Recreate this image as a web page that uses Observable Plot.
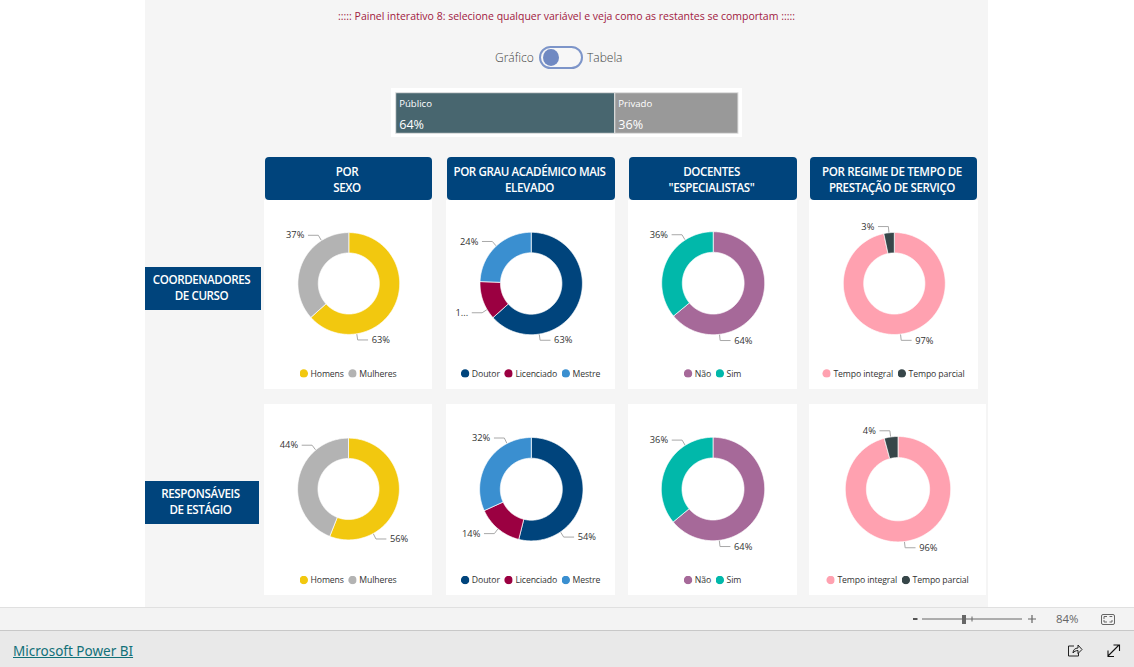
<!DOCTYPE html>
<html lang="pt">
<head>
<meta charset="utf-8">
<script src="https://cdn.jsdelivr.net/npm/d3@7"></script>
<script src="https://cdn.jsdelivr.net/npm/@observablehq/plot@0.6"></script>
<style>
html,body{margin:0;padding:0;background:#fff;width:1134px;height:667px;overflow:hidden;font-family:"Open Sans",sans-serif;}
.abs{position:absolute;}
.tog{font-size:12px;font-weight:300;line-height:16px;color:#444;top:50px;}
#pill{left:539px;top:46px;width:40px;height:19px;border:2px solid #7d95c9;border-radius:12px;background:#f7f7f7;}
#knob{left:543px;top:49px;width:16px;height:17px;border-radius:50%;background:#7089c2;}
.head{background:#00447c;border-radius:4px;color:#fff;text-align:center;font-size:11.6px;font-weight:600;line-height:16px;top:157px;height:43px;letter-spacing:-.4px;box-sizing:border-box;padding-top:6.5px;padding-right:3px;white-space:nowrap;}
.rowlab{background:#00447c;color:#fff;text-align:center;font-size:11.6px;font-weight:600;line-height:16px;letter-spacing:-.4px;height:43px;box-sizing:border-box;padding-top:5px;padding-right:3px;left:145px;}
.panel{background:#fff;}
.panel svg{display:block;}
.leg-swatches-wrap,.leg-swatches{display:flex;justify-content:center;align-items:center;min-height:0!important;margin:0!important;font-family:"Open Sans",sans-serif;font-size:8.7px!important;letter-spacing:-.12px;color:#333;padding-right:2px;}
.leg-swatch{display:inline-flex;align-items:center;margin-right:4.5px!important;}
.leg-swatch:last-child{margin-right:0!important;}
.leg-swatch svg{clip-path:circle(50%);margin-right:2.5px!important;}
#tree{left:391px;top:88px;width:351px;height:49px;background:#fff;}
#zoombar{left:0;top:607px;width:1134px;background:#f3f3f3;border-top:1px solid #e0e0e0;border-bottom:1px solid #c8c8c8;height:22px;}
#foot{left:0;top:631px;width:1134px;height:36px;background:#e9e9e9;}
#pbi{left:13px;top:641px;font-size:13.5px;line-height:20px;color:#117078;text-decoration:underline;font-family:"Noto Sans",sans-serif;}
#pct{left:1056px;top:611px;font-size:11.4px;line-height:16px;color:#666;}
</style>
</head>
<body>
<script>
// ---- data ----
const sectorCats = ["Público", "Privado"];
const sectorValues = [64, 36];
const sectorColors = ["#48666f", "#999999"];

const sexCats = ["Homens", "Mulheres"];
const sexColors = ["#F2C80F", "#B3B3B3"];
const degreeCats = ["Doutor", "Licenciado", "Mestre"];
const degreeColors = ["#00447C", "#9B0041", "#3A8FD0"];
const specialistCats = ["Não", "Sim"];
const specialistColors = ["#A66999", "#01B8AA"];
const regimeCats = ["Tempo integral", "Tempo parcial"];
const regimeColors = ["#FFA1B0", "#374649"];

const sexCoord = [63.4, 36.6];
const degreeCoord = [63.4, 12.2, 24.4];
const specialistCoord = [64, 36];
const regimeCoord = [96.7, 3.3];
const sexResp = [56, 44];
const degreeResp = [53.9, 14.3, 31.8];
const specialistResp = [64, 36];
const regimeResp = [95.8, 4.2];

const columnTitles = [["POR", "SEXO"], ["POR GRAU ACADÉMICO MAIS", "ELEVADO"], ["DOCENTES", "\"ESPECIALISTAS\""], ["POR REGIME DE TEMPO DE", "PRESTAÇÃO DE SERVIÇO"]];
const rowTitles = [["COORDENADORES", "DE CURSO"], ["RESPONSÁVEIS", "DE ESTÁGIO"]];
const panelTitle = "::::: Painel interativo 8: selecione qualquer variável e veja como as restantes se comportam :::::";

// ---- layout, kept apart from the data ----
const host = document.body;
function box(cls, css, html) {
  const d = document.createElement("div");
  d.className = "abs " + cls;
  Object.assign(d.style, css);
  if (html != null) d.innerHTML = html;
  host.appendChild(d);
  return d;
}
box("", {left:"145px",top:"0",width:"843px",height:"607px",background:"#f5f5f5"});
box("", {left:"145px",width:"843px",top:"9px",textAlign:"center",fontSize:"10.5px",lineHeight:"15px",color:"#a1203f",whiteSpace:"nowrap"}, panelTitle);
box("tog", {left:"495px"}, "Gráfico");
box("tog", {left:"587px"}, "Tabela");
box("", {}, "").id = "pill";
box("", {}, "").id = "knob";

// public / private split: one stacked bar
const tree = box("", {}); tree.id = "tree";
const sectorRows = sectorCats.map((c, i) => ({cat: c, value: sectorValues[i], start: d3.sum(sectorValues.slice(0, i))}));
tree.appendChild(Plot.plot({
  width: 351, height: 49, marginTop: 4.7, marginBottom: 3.7, marginLeft: 4.7, marginRight: 4,
  style: {background: "#fff", fontFamily: "'Open Sans',sans-serif"},
  x: {domain: [0, 100], axis: null},
  y: {domain: [0, 1], axis: null},
  color: {domain: sectorCats, range: sectorColors},
  marks: [
    Plot.rectY(sectorRows, {x1: "start", x2: d => d.start + d.value, y1: 0, y2: 1, fill: "cat", stroke: "#e2e2e2", strokeWidth: 1}),
    Plot.text(sectorRows, {x: "start", y: 1, text: "cat", textAnchor: "start", dx: 3, dy: 10.8, fill: "#fff", fontSize: 9.6}),
    Plot.text(sectorRows, {x: "start", y: 0, text: d => d.value + "%", textAnchor: "start", dx: 3, dy: -8.5, fill: "#fff", fontSize: 12.6})
  ]
}));

const headX = [[265, 167], [447, 168], [629, 168], [810, 167]];
columnTitles.forEach((t, i) => box("head", {left: headX[i][0] + "px", width: headX[i][1] + "px"}, t.join("<br>")));
box("rowlab", {top: "267px", width: "116px"}, rowTitles[0].join("<br>"));
box("rowlab", {top: "481px", width: "114px"}, rowTitles[1].join("<br>"));

// each donut: panel box, ring centre, ring radius (px), leader angle (deg clockwise from top) per slice
const specs = [
  {v: sexCoord,        c: sexCats,        k: sexColors,        p: [264, 200, 168, 189], cx: 348.3, cy: 283,   r: 50.9, la: [171, 327.5]},
  {v: degreeCoord,     c: degreeCats,     k: degreeColors,     p: [446, 200, 169, 189], cx: 530.7, cy: 283,   r: 51.2, la: [171, 239.4, 317], lab: ["63%", "1...", "24%"]},
  {v: specialistCoord, c: specialistCats, k: specialistColors, p: [628, 200, 169, 189], cx: 712.7, cy: 282.7, r: 51.5, la: [173, 327]},
  {v: regimeCoord,     c: regimeCats,     k: regimeColors,     p: [809, 200, 169, 189], cx: 893.8, cy: 283,   r: 51,   la: [173, 354]},
  {v: sexResp,         c: sexCats,        k: sexColors,        p: [264, 404, 168, 191], cx: 348,   cy: 488.5, r: 50.9, la: [151, 320]},
  {v: degreeResp,      c: degreeCats,     k: degreeColors,     p: [446, 404, 169, 191], cx: 530.8, cy: 488.7, r: 51.7, la: [145.7, 220, 332]},
  {v: specialistResp,  c: specialistCats, k: specialistColors, p: [628, 404, 169, 191], cx: 712.5, cy: 488.5, r: 51.7, la: [173, 327.5]},
  {v: regimeResp,      c: regimeCats,     k: regimeColors,     p: [809, 404, 177, 191], cx: 897.5, cy: 488.7, r: 52.7, la: [173, 352]}
];
const holeRatio = 0.6;
const rad = a => a * Math.PI / 180;

function ring(cats, values) {
  const total = d3.sum(values), pts = [];
  let a0 = 0;
  values.forEach((v, i) => {
    const a1 = a0 + v / total * 360, n = Math.max(2, Math.ceil(a1 - a0)), arc = [];
    for (let j = 0; j <= n; j++) arc.push(a0 + (a1 - a0) * j / n);
    arc.forEach(a => pts.push({cat: cats[i], x: Math.sin(rad(a)), y: -Math.cos(rad(a))}));
    arc.slice().reverse().forEach(a => pts.push({cat: cats[i], x: holeRatio * Math.sin(rad(a)), y: -holeRatio * Math.cos(rad(a))}));
    pts.push({...pts[pts.length - 2 * (n + 1)]});
    a0 = a1;
  });
  return pts;
}

specs.forEach(s => {
  const [L, T, W, H] = s.p, plotH = H - 26, pr = s.r;
  const panel = box("panel", {left: L + "px", top: T + "px", width: W + "px", height: H + "px"});
  const leaders = [], labels = [];
  s.c.forEach((cat, i) => {
    const a = rad(s.la[i]), sin = Math.sin(a), cos = Math.cos(a), side = sin > 0 ? 1 : -1;
    const x0 = sin * 1.015, y0 = -cos * 1.015;
    const x1 = x0 + 5 * sin / pr, y1 = y0 - 5.5 * cos / pr;
    const x2 = x1 + side * 10 / pr;
    leaders.push({cat, x: x0, y: y0}, {cat, x: x1, y: y1}, {cat, x: x2, y: y1});
    labels.push({x: x2, y: y1, side, text: s.lab ? s.lab[i] : Math.round(s.v[i] / d3.sum(s.v) * 100) + "%"});
  });
  const label = side => Plot.text(labels.filter(d => d.side === side), {
    x: "x", y: "y", text: "text", textAnchor: side > 0 ? "start" : "end",
    dx: side * 4, dy: 0.2, fill: "#333", fontSize: 9.3
  });
  const plot = Plot.plot({
    width: W, height: plotH, margin: 0,
    style: {background: "#fff", fontFamily: "'Open Sans',sans-serif"},
    x: {domain: [(L - s.cx) / pr, (L + W - s.cx) / pr], range: [0, W], axis: null},
    y: {domain: [(T - s.cy) / pr, (T + plotH - s.cy) / pr], range: [0, plotH], axis: null},
    color: {domain: s.c, range: s.k},
    marks: [
      Plot.line(ring(s.c, s.v), {x: "x", y: "y", z: "cat", fill: "cat", stroke: "#fff", strokeWidth: 0.7, curve: "linear"}),
      Plot.line(leaders, {x: "x", y: "y", z: "cat", stroke: "#a8a8a8", strokeWidth: 1, curve: "linear"}),
      label(1), label(-1)
    ]
  });
  panel.appendChild(plot);
  const leg = plot.legend("color", {className: "leg", swatchSize: 8.5});
  panel.appendChild(leg);
  leg.style.position = "absolute";
  leg.style.left = "0"; leg.style.width = W + "px";
  leg.style.top = (H === 189 ? 167.5 : 170) + "px";
});

// viewer chrome
box("", {}).id = "zoombar";
box("", {}).id = "foot";
box("", {}, "Microsoft Power BI").id = "pbi";
box("", {}, "84%").id = "pct";
const ico = box("", {left: "0", top: "0", width: "1134px", height: "667px", pointerEvents: "none"});
ico.innerHTML = `<svg width="1134" height="667" style="position:absolute;left:0;top:0" fill="none">
<path d="M922 619h100" stroke="#666" stroke-width="1"/>
<path d="M913 619h4.500" stroke="#555" stroke-width="2"/>
<rect x="962" y="615" width="4" height="9" fill="#666"/><path d="M972 616.500v5" stroke="#666"/>
<path d="M1028 619h8M1032 615v8" stroke="#666" stroke-width="1.200"/>
<rect x="1101.500" y="614.500" width="13" height="10" rx="1.500" stroke="#666"/>
<path d="M1104 619v-2.500h3M1112 617v-.5h-2.500M1104 620v2h3M1112 620v2h-2.500" stroke="#666"/>
<path d="M1074 646h-5.500v10h10v-3M1073 653c0-3 2-5 5-5v-3l4 4.500-4 4v-3c-2 0-4 1-5 2.500z" stroke="#222" stroke-width="1"/>
<path d="M1108 656l11-11M1113.500 645h6v6M1108 650.500v6h6" stroke="#111" stroke-width="1.100"/>
</svg>`;
</script>
</body>
</html>
